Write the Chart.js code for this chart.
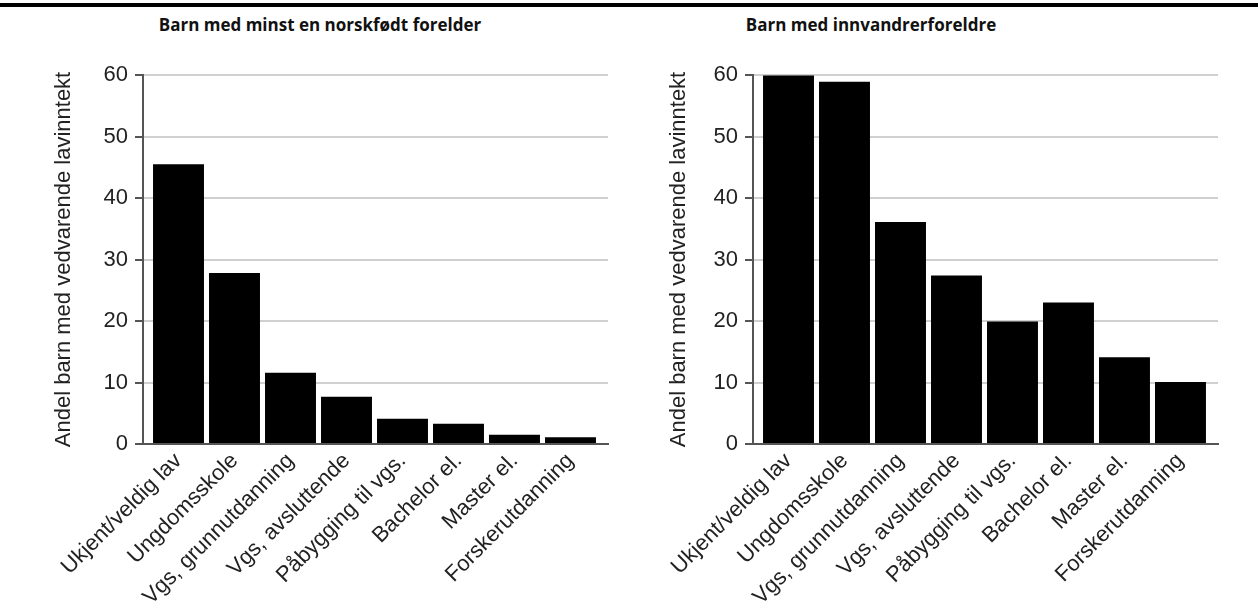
<!DOCTYPE html>
<html>
<head>
<meta charset="utf-8">
<script src="https://cdn.jsdelivr.net/npm/chart.js@4.4.1/dist/chart.umd.min.js"></script>
<style>
  html, body { margin: 0; padding: 0; background: #fff; }
  #wrap { position: relative; width: 1258px; height: 616px; overflow: hidden; }
  #topline { position: absolute; left: 0; top: 3px; width: 1258px; height: 4px; background: #000; }
  .title {
    position: absolute; top: 13px; width: 500px; margin-left: -250px;
    text-align: center; font-family: "Open Sans", sans-serif; font-weight: 700;
    font-size: 17px; color: #111; white-space: nowrap;
  }
  .box { position: absolute; top: 0; width: 629px; height: 616px; }
</style>
</head>
<body>
<div id="wrap">
  <div id="topline"></div>
  <div class="title" style="left:320px">Barn med minst en norskfødt forelder</div>
  <div class="title" style="left:871px">Barn med innvandrerforeldre</div>
  <div class="box" style="left:0"><canvas id="leftChart"></canvas></div>
  <div class="box" style="left:629px"><canvas id="rightChart"></canvas></div>
</div>
<script>
const categories = [
    "Ukjent/veldig lav",
    "Ungdomsskole",
    "Vgs, grunnutdanning",
    "Vgs, avsluttende",
    "Påbygging til vgs.",
    "Bachelor el.",
    "Master el.",
    "Forskerutdanning"
];
const norskfodtValues = [45.5, 27.8, 11.6, 7.7, 4.1, 3.3, 1.5, 1.1];
const innvandrerValues = [59.9, 58.9, 36.1, 27.4, 19.9, 23.0, 14.1, 10.1];
const yTitle = "Andel barn med vedvarende lavinntekt";
const yMin = 0;
const yMax = 60;
const yStep = 10;

const tickFont = { family: "'Liberation Sans', Arial, sans-serif", size: 22 };

function makeChart(id, values, pad, yWidth, titlePad) {
    const points = categories.map((c, i) => ({ x: i, y: values[i] }));
    return new Chart(document.getElementById(id), {
        type: "bar",
        data: {
            datasets: [{
                data: points,
                backgroundColor: "#000",
                borderWidth: 0,
                categoryPercentage: 1,
                barPercentage: 0.91
            }]
        },
        options: {
            responsive: true,
            maintainAspectRatio: false,
            animation: false,
            layout: { padding: pad },
            plugins: { legend: { display: false }, tooltip: { enabled: false } },
            scales: {
                x: {
                    type: "linear",
                    min: -0.634,
                    max: 7.67,
                    bounds: "data",
                    offset: false,
                    grid: { display: false, drawTicks: false },
                    border: { display: true, color: "#555", width: 2 },
                    ticks: {
                        autoSkip: false,
                        minRotation: 45,
                        maxRotation: 45,
                        padding: 4,
                        color: "#222",
                        font: tickFont,
                        callback: (v) => categories[v]
                    },
                    // one tick per category, at its index
                    afterBuildTicks: (s) => { s.ticks = categories.map((c, i) => ({ value: i })); },
                    afterFit: (s) => { s.height = 172; }
                },
                y: {
                    min: yMin,
                    max: yMax,
                    grid: {
                        color: "#d0d0d0",
                        lineWidth: 2,
                        tickColor: "#555",
                        tickWidth: 2,
                        tickLength: 8
                    },
                    border: { display: true, color: "#555", width: 2 },
                    ticks: { stepSize: yStep, padding: 7, color: "#222", font: tickFont },
                    title: {
                        display: true,
                        text: yTitle,
                        color: "#222",
                        font: tickFont,
                        padding: { top: titlePad, bottom: 0 }
                    },
                    afterFit: (s) => { s.width = yWidth; }
                }
            }
        }
    });
}

makeChart("leftChart", norskfodtValues, { left: 40, right: 21, top: 75, bottom: 0 }, 103, 11);
makeChart("rightChart", innvandrerValues, { left: 30, right: 40, top: 75, bottom: 0 }, 94, 7);
</script>
</body>
</html>
